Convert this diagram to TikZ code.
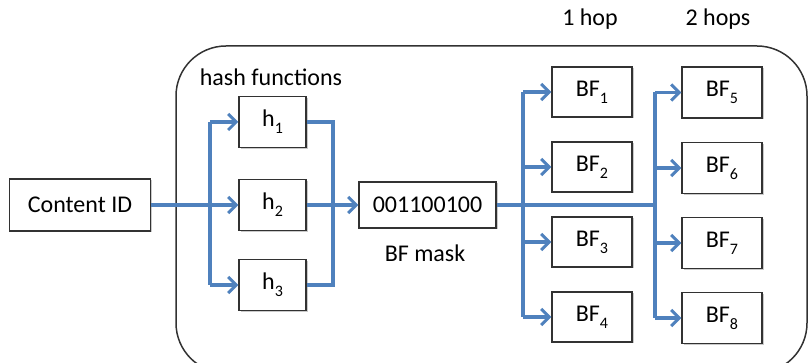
\documentclass[tikz,border=0pt]{standalone}
\usepackage{fontspec}
\setmainfont{Carlito}
\usetikzlibrary{arrows.meta,shadows}
\definecolor{flow}{RGB}{79,129,189}
\definecolor{edge}{RGB}{50,50,50}
\newcommand\lowtxt[1]{\raisebox{-0.3em}{\fontsize{16}{16}\selectfont #1}}
\begin{document}
\begin{tikzpicture}[x=1pt,y=-1pt,
  txt/.style={font=\fontsize{24}{28}\selectfont, inner sep=0pt},
  box/.style={txt, draw=edge, line width=1.5pt, fill=white,
    drop shadow={shadow xshift=1.5pt, shadow yshift=-1.5pt, opacity=0.35, fill=black!60}},
  link/.style={draw=flow, line width=3.2pt},
  arr/.style={link, -{Straight Barb[length=8pt,width=16pt,line width=3pt]}}]
\useasboundingbox (0,0) rectangle (809,363);
\clip (0,0) rectangle (809,363);

% enclosing router frame
\draw[edge, line width=1.5pt, rounded corners=50pt] (176,46) rectangle (807,373);

% headings
\node[txt] (hashlbl) at (271,77) {hash functions};
\node[txt] (hop1) at (590,19) {1 hop};
\node[txt] (hop2) at (718,19) {2 hops};

% boxes
\node[box, minimum width=141pt, minimum height=52pt] (cid) at (80,205) {Content ID};
\node[box, minimum width=67pt, minimum height=51pt] (h1) at (272.5,122) {h\lowtxt{1}};
\node[box, minimum width=67pt, minimum height=51pt] (h2) at (272.5,205) {h\lowtxt{2}};
\node[box, minimum width=67pt, minimum height=51pt] (h3) at (272.5,285) {h\lowtxt{3}};
\node[box, minimum width=137pt, minimum height=46pt] (mask) at (427.5,205) {001100100};
\node[txt] (masklbl) at (425,253) {BF mask};

\foreach \i/\y in {1/92,2/167,3/242,4/317}
  \node[box, minimum width=80pt, minimum height=50pt] (bf\i) at (592,\y) {BF\lowtxt{\i}};
\foreach \i/\y in {5/92.5,6/168,7/243,8/318}
  \node[box, minimum width=80pt, minimum height=51pt] (bf\i) at (722,\y) {BF\lowtxt{\i}};

% junction points
\coordinate (fan) at (210,205);
\coordinate (join) at (333,205);
\coordinate (hopa) at (523,205);
\coordinate (hopb) at (655,205);

% content id into the hash functions
\draw[arr] (cid) -- (h2);
\draw[link] (fan |- h1) -- (fan |- h3);
\draw[arr] (fan |- h1) -- (h1);
\draw[arr] (fan |- h3) -- (h3);

% hash outputs combined into the mask
\draw[link] (h1.east) -- (join |- h1) -- (join |- h3) -- (h3.east);
\draw[arr] (h2) -- (mask);

% mask out to the neighbour filters
\draw[link] (mask.east) -- (hopb);
\draw[link] (hopa |- bf1) -- (hopa |- bf4);
\foreach \i in {1,...,4} \draw[arr] (hopa |- bf\i) -- (bf\i);
\draw[link] (hopb |- bf5) -- (hopb |- bf8);
\foreach \i in {5,...,8} \draw[arr] (hopb |- bf\i) -- (bf\i);
\end{tikzpicture}
\end{document}
